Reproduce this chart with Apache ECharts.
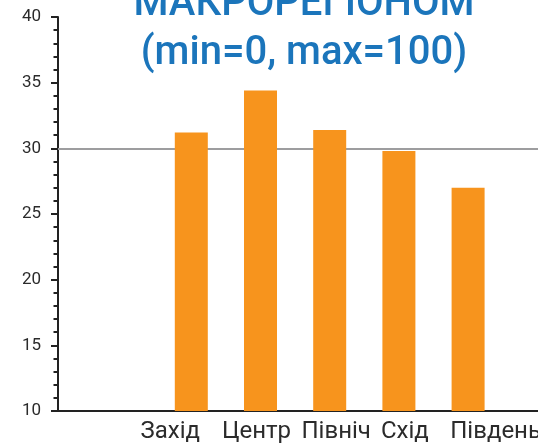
<!DOCTYPE html>
<html>
<head>
<meta charset="utf-8">
<script src="https://cdn.jsdelivr.net/npm/echarts@6/dist/echarts.min.js"></script>
<style>
  html, body { margin: 0; padding: 0; background: #fff; }
  #main { width: 538px; height: 444px; }
</style>
</head>
<body>
<div id="main"></div>
<script>
var regions = ['Захід', 'Центр', 'Північ', 'Схід', 'Південь'];
var values = [31.2, 34.4, 31.4, 29.8, 27.0];
var ukraineLevel = 30;
var yTicks = { min: 10, max: 40, step: 5 };
var titleLines = ['МАКРОРЕГІОНОМ', '(min=0, max=100)'];

var myChart = echarts.init(document.getElementById('main'));
var axisColor = '#222';

// labels in the original sit a little off the bar centres
var labelNudge = [-21, -4, 6.5, 6, 27.5];
var regionItems = regions.map(function (name, i) {
    var d = labelNudge[i];
    var pad = d < 0 ? [0, -2 * d, 0, 0] : [0, 0, 0, 2 * d];
    return { value: name, textStyle: { padding: pad } };
});

option = {
    animation: false,
    title: {
        text: titleLines.join('\n'),
        left: 304,
        textAlign: 'center',
        top: -20,
        padding: 0,
        textStyle: {
            color: '#1b75bb',
            fontFamily: 'Roboto',
            fontWeight: 500,
            fontSize: 40,
            lineHeight: 49
        }
    },
    grid: [
        { left: 58, right: 0, top: 17, bottom: 33, outerBoundsMode: 'none' },
        { left: 156.7, right: 35.3, top: 17, bottom: 33, outerBoundsMode: 'none' }
    ],
    xAxis: [{
        gridIndex: 0,
        type: 'category',
        data: [''],
        axisLine: { lineStyle: { color: axisColor, width: 2 } },
        axisTick: { show: false },
        axisLabel: { show: false }
    }, {
        gridIndex: 1,
        type: 'category',
        data: regionItems,
        axisLine: { show: false },
        axisTick: { show: false },
        axisLabel: {
            interval: 0,
            hideOverlap: false,
            margin: 9,
            color: '#2b2b2b',
            fontFamily: 'Roboto',
            fontSize: 24
        }
    }],
    yAxis: [{
        gridIndex: 0,
        type: 'value',
        min: yTicks.min,
        max: yTicks.max,
        interval: yTicks.step,
        axisLine: { show: true, lineStyle: { color: axisColor, width: 2 } },
        axisTick: { show: true, length: 7, lineStyle: { color: axisColor, width: 2 } },
        minorTick: { show: true, splitNumber: 5, length: 4.5, lineStyle: { color: axisColor, width: 2 } },
        splitLine: { show: false },
        axisLabel: {
            margin: 17,
            color: '#2b2b2b',
            fontFamily: 'Roboto',
            fontSize: 17
        }
    }, {
        gridIndex: 1,
        type: 'value',
        min: yTicks.min,
        max: yTicks.max,
        show: false,
        splitLine: { show: false }
    }],
    series: [{
        type: 'line',
        xAxisIndex: 0,
        yAxisIndex: 0,
        data: [],
        z: 1,
        markLine: {
            silent: true,
            symbol: 'none',
            label: { show: false },
            lineStyle: { color: '#9d9d9f', width: 2, type: 'solid' },
            data: [{ yAxis: ukraineLevel }]
        }
    }, {
        type: 'bar',
        xAxisIndex: 1,
        yAxisIndex: 1,
        barWidth: 33,
        z: 5,
        itemStyle: { color: '#f7941d' },
        data: values
    }]
};

myChart.setOption(option);
</script>
</body>
</html>
